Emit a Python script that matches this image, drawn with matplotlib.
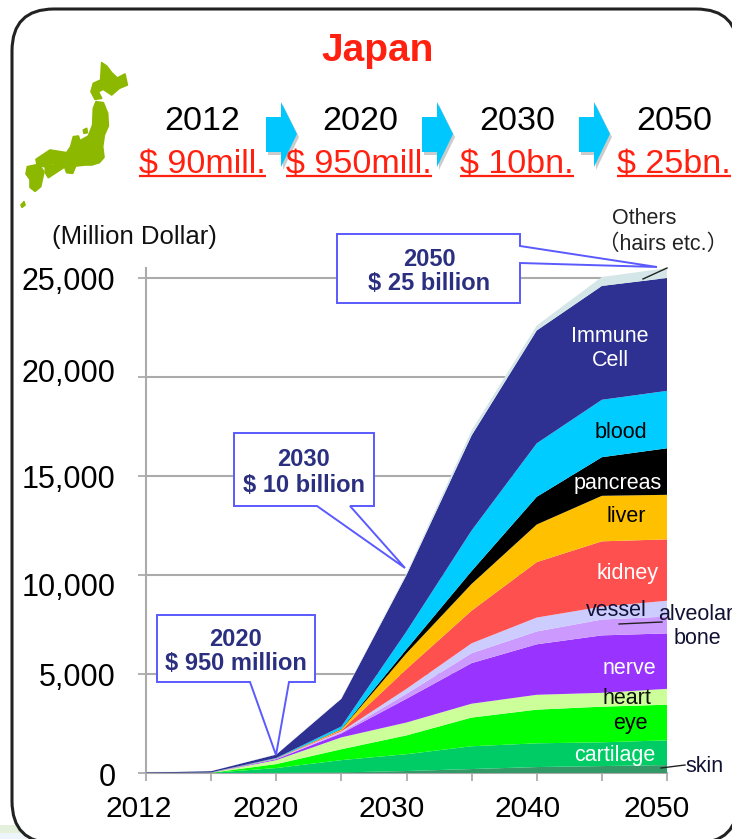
import matplotlib
matplotlib.use('Agg')
import matplotlib.pyplot as plt
from matplotlib.patches import FancyBboxPatch, Polygon, Rectangle
from matplotlib.transforms import ScaledTranslation

plt.rcParams['font.family'] = ['Liberation Sans', 'Noto Sans CJK JP', 'DejaVu Sans']

# chart data, million dollar per segment, bottom to top
years = ['2012', '2016', '2020', '2025', '2030', '2035', '2040', '2045', '2050']
year_labels = ['2012', '', '2020', '', '2030', '', '2040', '', '2050']
skin = [0, 0, 5, 30, 100, 200, 300, 350, 400]
cartilage = [0, 5, 245, 620, 850, 1150, 1200, 1200, 1250]
eye = [0, 5, 200, 550, 950, 1450, 1700, 1800, 1800]
heart = [0, 5, 200, 600, 650, 700, 750, 700, 800]
nerve = [0, 5, 50, 200, 1200, 2050, 2550, 2900, 2800]
alveolar = [0, 2, 10, 50, 250, 500, 650, 800, 850]
vessel = [0, 2, 10, 50, 250, 500, 700, 650, 800]
kidney = [0, 2, 10, 50, 1000, 1650, 2800, 3300, 3100]
liver = [0, 2, 5, 50, 800, 1350, 1900, 2300, 2250]
pancreas = [0, 2, 5, 20, 200, 650, 1400, 1950, 2350]
blood = [0, 5, 20, 130, 900, 2050, 2700, 2900, 2900]
immune = [20, 55, 170, 1400, 2850, 4800, 5700, 5750, 5700]
others = [0, 0, 20, 30, 100, 250, 250, 450, 500]

y_ticks = [0, 5000, 10000, 15000, 20000, 25000]
y_labels = ['0', '5,000', '10,000', '15,000', '20,000', '25,000']

head_years = ['2012', '2020', '2030', '2050']
head_money = ['$ 90mill.', '$ 950mill.', '$ 10bn.', '$ 25bn.']

colors = ['#339966', '#00CC66', '#00FF00', '#CCFF99', '#9933FF', '#CC99FF', '#CCCCFF',
          '#FF5050', '#FFC000', '#000000', '#00CCFF', '#2E3192', '#D5E6E8']

W, H = 732, 839
fig = plt.figure(figsize=(W / 100, H / 100), dpi=100, facecolor='white')

# pixel overlay behind the chart, for frame and header
back = fig.add_axes([0, 0, 1, 1], zorder=0)
back.set_xlim(0, W)
back.set_ylim(H, 0)
back.axis('off')

back.add_patch(Rectangle((0, 825), 90, 8, fc='#E4EFDC', ec='none'))
back.add_patch(Rectangle((0, 833), 90, 6, fc='#EEF5FA', ec='none'))
back.add_patch(FancyBboxPatch((52, 49), 646, 754, boxstyle='round,pad=40,rounding_size=42',
                              fc='white', ec='#222222', lw=2.2))

back.text(378, 51, 'Japan', color='#FF2010', fontsize=28, fontweight='bold', ha='center', va='center')

# header arrows
for ax0 in [266, 422, 579]:
    pts = [(ax0, 117), (ax0 + 15, 117), (ax0 + 15, 102), (ax0 + 31, 134),
           (ax0 + 15, 167), (ax0 + 15, 152), (ax0, 152)]
    back.add_patch(Polygon([(x + 2, y + 3) for x, y in pts], fc='#999999', ec='none', alpha=0.5))
    back.add_patch(Polygon(pts, fc='#00C8FF', ec='none'))

head_x = [202, 360, 517, 674]
under = [(139, 266), (286, 432), (460, 574), (617, 731)]
for i in range(4):
    back.text(head_x[i], 121, head_years[i], color='black', fontsize=24.5, ha='center', va='center')
    back.text(sum(under[i]) / 2, 164, head_money[i], color='#FF2010', fontsize=24.5, ha='center', va='center')
    back.plot(under[i], [176, 176], color='#FF2010', lw=1.6, solid_capstyle='butt')

# rough outline of the map
map_color = '#8DB800'
hokkaido = [(275, 38), (290, 48), (305, 68), (322, 84), (345, 72), (352, 105), (328, 115), (305, 135),
            (280, 118), (265, 125), (275, 145), (255, 148), (243, 125), (250, 100), (272, 90)]
honshu = [(258, 155), (280, 158), (293, 190), (295, 228), (283, 255), (278, 290), (282, 322), (268, 338),
          (245, 345), (225, 345), (197, 348), (188, 370), (170, 368), (160, 340), (130, 340), (105, 350),
          (82, 348), (78, 328), (120, 300), (170, 308), (182, 290), (190, 260), (205, 258), (210, 272),
          (235, 258), (248, 225), (250, 175)]
shikoku = [(106, 352), (155, 338), (162, 352), (138, 368), (115, 383), (106, 368)]
kyushu = [(52, 350), (86, 343), (102, 365), (92, 410), (75, 424), (60, 412), (60, 388), (48, 372)]
sado = [(220, 240), (230, 235), (232, 248), (222, 250)]
okinawa = [(33, 465), (42, 455), (45, 465), (36, 472)]
for part in [hokkaido, honshu, shikoku, kyushu, sado, okinawa]:
    back.add_patch(Polygon([(10 + x / 3, 50 + y / 3) for x, y in part], fc=map_color, ec=map_color,
                           lw=1.2, joinstyle='round'))

back.text(52, 237, '(Million Dollar)', color='#111111', fontsize=18.5, ha='left', va='center')

# the chart itself
ymax = 25500
left, right, bottom = 146, 667, 773
top = bottom - ymax * 495 / 25000
ax = fig.add_axes([left / W, 1 - bottom / H, (right - left) / W, (bottom - top) / H], zorder=1)
ax.patch.set_alpha(0)

x = list(range(len(years)))
ax.stackplot(x, skin, cartilage, eye, heart, nerve, alveolar, vessel, kidney, liver, pancreas,
             blood, immune, others, colors=colors, linewidth=0, zorder=3)
ax.set_xlim(0, len(years) - 1)
ax.set_ylim(0, ymax)
ax.set_xticks(x)
ax.set_xticklabels(year_labels, fontsize=21.5, color='black')
ax.set_yticks(y_ticks)
ax.set_yticklabels(y_labels, fontsize=22, color='black')
ax.grid(axis='y', color='#ABABAB', lw=1.5, zorder=1)
ax.tick_params(axis='both', color='#ABABAB', width=1.3, length=6)
ax.tick_params(axis='x', pad=9.5)
ax.tick_params(axis='y', pad=16)
for s in ['top', 'right']:
    ax.spines[s].set_visible(False)
for s in ['left', 'bottom']:
    ax.spines[s].set_color('#ABABAB')
    ax.spines[s].set_linewidth(1.5)

# tick labels in the reference are not centred on their ticks
x_shift = [-7, 0, -11, 0, -15, 0, -9, 0, -10]
for lab, dx in zip(ax.get_xticklabels(), x_shift):
    lab.set_transform(lab.get_transform() + ScaledTranslation(dx / 100, 0, fig.dpi_scale_trans))
y_shift = [-2, 0, -10, -1, 6, 0]
for lab, dy in zip(ax.get_yticklabels(), y_shift):
    lab.set_transform(lab.get_transform() + ScaledTranslation(0, dy / 100, fig.dpi_scale_trans))

# overlay on top for callouts and segment names
over = fig.add_axes([0, 0, 1, 1], zorder=2)
over.set_xlim(0, W)
over.set_ylim(H, 0)
over.axis('off')
over.patch.set_alpha(0)

callout_color = '#5A5AFF'
navy = '#2B2F7F'
callouts = [
    ([(157, 615), (315, 615), (315, 682), (289, 682), (276, 755), (250, 682), (157, 682)], 236, ['2020', '$ 950 million'], [640, 664]),
    ([(234, 433), (374, 433), (374, 506), (350, 506), (405, 568), (317, 506), (234, 506)], 304, ['2030', '$ 10 billion'], [459, 485]),
    ([(337, 234), (520, 234), (520, 246), (657, 267), (520, 263), (520, 303), (337, 303)], 429, ['2050', '$ 25 billion'], [260, 284]),
]
for pts, cx, lines, ys in callouts:
    over.add_patch(Polygon(pts, closed=True, fc='white', ec=callout_color, lw=1.4))
    for txt, ty in zip(lines, ys):
        over.text(cx, ty, txt, color=navy, fontsize=17, fontweight='bold', ha='center', va='center')

labels = [
    ('Immune', 610, 337, 'white'), ('Cell', 610, 360, 'white'), ('blood', 621, 432, 'black'),
    ('pancreas', 618, 484, 'white'), ('liver', 626, 517, 'black'), ('kidney', 627, 574, 'white'),
    ('vessel', 616, 611, '#111133'), ('nerve', 629, 669, 'white'), ('heart', 627, 699, '#111111'),
    ('eye', 630, 724, 'black'), ('cartilage', 615, 755, 'white'), ('skin', 705, 767, '#111133'),
    ('alveolar', 696, 615, '#111133'), ('bone', 697, 638, '#111133'),
    ('Others', 644, 219, '#222222'), ('（hairs etc.）', 663, 244, '#222222'),
]
for txt, lx, ly, col in labels:
    over.text(lx, ly, txt, color=col, fontsize=15.5, ha='center', va='center')

# leader lines
over.plot([661, 685], [768, 765], color='#222222', lw=1)
over.plot([619, 662], [624, 622], color='#222222', lw=1)
over.plot([643, 667], [279, 268], color='#222222', lw=1)

fig.savefig('out.png', dpi=100)
